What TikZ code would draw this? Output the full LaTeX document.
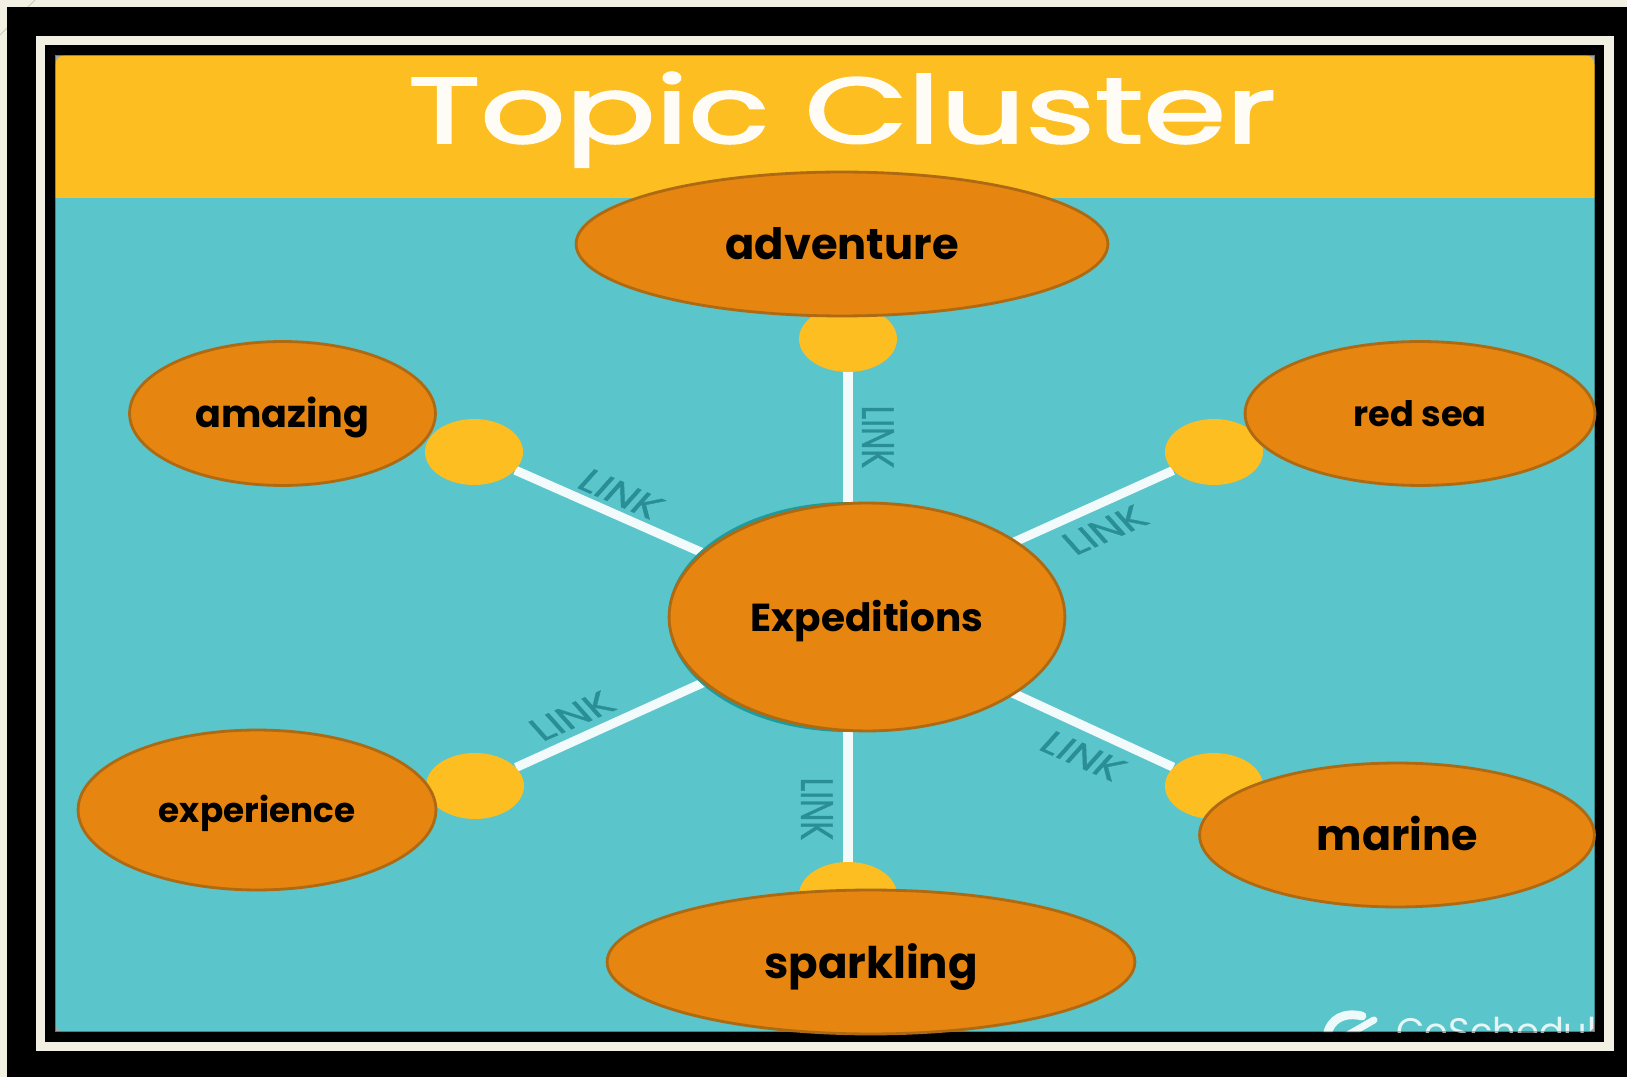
\documentclass[tikz,border=0pt]{standalone}
\usepackage{fontspec}
\setmainfont{Poppins}
\newfontfamily\titlefont{Poppins}[FakeBold=2]
\newfontfamily\linkfont{Poppins}[FakeBold=1]
\usetikzlibrary{shapes.geometric}
\pgfdeclarelayer{background}
\pgfsetlayers{background,main}
\definecolor{paper}{HTML}{F2F0E2}
\definecolor{sky}{HTML}{5AC5CB}
\definecolor{amber}{HTML}{FDBE21}
\definecolor{burnt}{HTML}{E78511}
\definecolor{rim}{HTML}{AD6A12}
\definecolor{deepteal}{HTML}{1C9C9E}
\definecolor{linkink}{HTML}{2A8E96}
\def\scale{0.02}
\def\stretch{1.43}
\tikzstyle{topic}=[ellipse,draw=rim,line width=1.6pt,fill=burnt,inner sep=0pt,text=black]
\tikzstyle{hub}=[ellipse,fill=deepteal,minimum width=7.2cm,minimum height=4.6cm,inner sep=0pt]
\tikzstyle{knob}=[ellipse,fill=amber,minimum width=1.96cm,minimum height=1.32cm,inner sep=0pt]
\tikzstyle{link edge}=[draw,line width=5.2pt,white!92!sky,-]
\tikzstyle{link label}=[text=linkink,font=\fontsize{18}{20}\linkfont,inner sep=0pt,transform shape]
\def\knobs{{(848,339)/kt}, {(474,452)/kl}, {(1214,452)/kr}, {(475,786)/kp}, {(1214,786)/kq}, {(848,895)/kb}}
\def\linkLabels{{(878,437)/-90/lt}, {(621,494)/-32/ll}, {(1105,530)/32/lr}, {(572,716)/32/lp}, {(1083,756)/-32/lq}, {(817,809)/-90/lb}}
\def\topics{{(842,244)/266/72/24.6/adventure/adventure}, {(282.5,413.5)/153/72/21.7/amazing/amazing}, {(1420,413.5)/175/72/20/redsea/red sea}, {(257,810)/179/80/19.5/experience/experience}, {(1397,835)/197.5/72/24.4/marine/marine}, {(871,962)/264/72/24.8/sparkling/sparkling}, {(867,617)/198/114/22.2/expeditions/Expeditions}}

\begin{document}
\begin{tikzpicture}[x=\scale cm,y=-\scale cm]
  \useasboundingbox (0,0) rectangle (1627,1077);

  \node[hub] (hub) at (848,617) {};

  \foreach \pos/\name in \knobs {
    \node[knob] (\name) at \pos {};
    }

  \foreach \pos/\angle/\name in \linkLabels {
    \node[link label,xscale=\stretch,rotate=\angle] (\name) at \pos {LINK};
    }

  \foreach \pos/\rx/\ry/\size/\name/\word in \topics {
    \node[topic,minimum width={\rx*0.04cm},minimum height={\ry*0.04cm},text height={0.74*\size pt},text depth=0pt,font=\fontsize{\size}{\size}\selectfont\bfseries] (\name) at \pos {\word};
    }

  \node[anchor=base,inner sep=0pt,text=white!96!amber,xscale=\stretch,transform shape,font=\fontsize{53}{56}\titlefont] (title) at (842,143) {Topic Cluster};

  \begin{pgfonlayer}{background}
    % frame
    \fill[paper] (0,0) rectangle (1627,1077);
    \draw[black!15!paper,line width=0.5pt] (35,0) -- (0,35);
    \fill[black] (7,7) rectangle (1627,1077);
    \fill[paper] (36,36) rectangle (1614,1051);
    \fill[black] (45,45) rectangle (1604,1042);
    % picture
    \fill[black!35!white] (55,55) rectangle (1595,1032);
    \begin{scope}
      \clip[rounded corners=6pt] (55,55) rectangle (1595,1032);
      \fill[sky] (55,55) rectangle (1595,1032);
      \fill[amber] (55,55) rectangle (1595,198);
      \draw[white!90!sky,line width=5pt,line cap=round] (1327,1036) .. controls (1330,1018) and (1345,1012) .. (1362,1016);
      \draw[white!90!sky,line width=4pt,line cap=round] (1346,1036) -- (1374,1020);
      \node[anchor=base west,inner sep=0pt,text=white!85!sky,font=\fontsize{21}{24}\selectfont] (brand) at (1396,1044) {CoSchedule};
    \end{scope}
    \draw[black,opacity=0.3,line width=1.5pt] (55,55) rectangle (1595,1032);
    \foreach \source in {kt,kl,kr,kp,kq,kb} {
      \path[link edge] (\source) -- (hub.center);
      }
  \end{pgfonlayer}

\end{tikzpicture}
\end{document}
